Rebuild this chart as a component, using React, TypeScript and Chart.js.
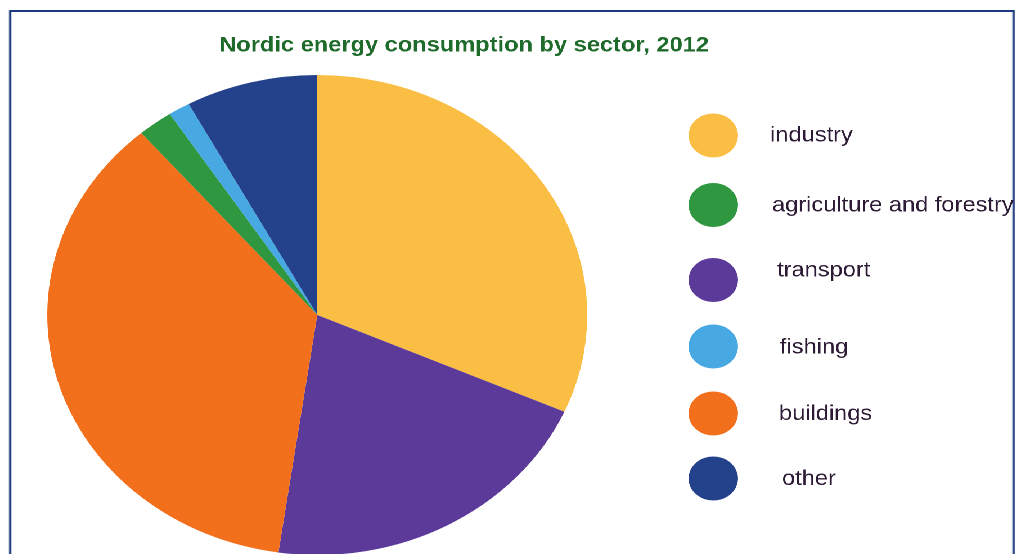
import React, { useEffect, useRef } from "react";
import { Chart, registerables } from "chart.js";

Chart.register(...registerables);

// ---- data (pie order, clockwise from 12 o'clock) ----
const sectors = ["industry", "transport", "buildings", "agriculture and forestry", "fishing", "other"];
const shares = [31.6, 20.7, 36.4, 2.1, 1.3, 7.9];
const sectorColors = ["#FBBE44", "#5C3A9A", "#F26F1B", "#2E9740", "#48A9E2", "#24418C"];

// ---- legend order as shown in the picture ----
const legendOrder = ["industry", "agriculture and forestry", "transport", "fishing", "buildings", "other"];

const chartTitle = "Nordic energy consumption by sector, 2012";

// ---- layout (base, unstretched coordinates) ----
const BASE_W = 912;
const H = 554;
const STRETCH = 1026 / BASE_W;
const LEG_CX = 634;
const LEG_R = 22;
const LEG_CY = [135.5, 205, 280, 346.5, 413.5, 478.5];
const LEG_TX = [684.5, 686.2, 690.7, 693.3, 692.4, 695.1];
const LEG_TY = [141.7, 211.7, 276.7, 353.3, 420, 485];

const overlayPlugin = {
  id: "overlay",
  afterDraw(chart: any) {
    const ctx = chart.ctx as CanvasRenderingContext2D;
    ctx.save();
    // title
    ctx.fillStyle = "#1F6B2C";
    ctx.font = "bold 21px 'Liberation Sans', Arial, sans-serif";
    ctx.textAlign = "center";
    ctx.textBaseline = "alphabetic";
    ctx.fillText(chartTitle, 412.5, 51.5);
    // legend
    ctx.textAlign = "left";
    ctx.font = "21px 'Liberation Sans', Arial, sans-serif";
    legendOrder.forEach((name, i) => {
      const idx = sectors.indexOf(name);
      ctx.beginPath();
      ctx.arc(LEG_CX, LEG_CY[i], LEG_R, 0, Math.PI * 2);
      ctx.fillStyle = sectorColors[idx];
      ctx.fill();
      ctx.fillStyle = "#2D1A35";
      ctx.fillText(name, LEG_TX[i], LEG_TY[i]);
    });
    ctx.restore();
  },
};

export default function App() {
  const ref = useRef<HTMLCanvasElement | null>(null);

  useEffect(() => {
    if (!ref.current) return;
    const chart = new Chart(ref.current, {
      type: "pie",
      data: {
        labels: sectors,
        datasets: [
          {
            data: shares,
            backgroundColor: sectorColors,
            borderWidth: 0,
          },
        ],
      },
      options: {
        animation: false,
        responsive: false,
        devicePixelRatio: 2,
        radius: 240,
        layout: { padding: { left: 42, right: 390, top: 76, bottom: 0 } },
        plugins: {
          legend: { display: false },
          tooltip: { enabled: false },
          title: { display: false },
        },
      } as any,
      plugins: [overlayPlugin],
    });
    return () => chart.destroy();
  }, []);

  return (
    <div
      style={{
        position: "fixed",
        left: 0,
        top: 0,
        width: 1026,
        height: H,
        overflow: "hidden",
        background: "#ffffff",
      }}
    >
      <div
        style={{
          position: "absolute",
          left: 0,
          top: 0,
          width: BASE_W,
          height: H,
          transform: `scaleX(${STRETCH})`,
          transformOrigin: "0 0",
        }}
      >
        <div
          style={{
            position: "absolute",
            left: 8,
            top: 10,
            width: 902.5 - 8 - 4.8,
            height: 700,
            border: "2.4px solid #1C3A7E",
          }}
        />
        <canvas
          ref={ref}
          width={BASE_W}
          height={H}
          style={{ position: "absolute", left: 0, top: 0, width: BASE_W, height: H }}
        />
      </div>
    </div>
  );
}
